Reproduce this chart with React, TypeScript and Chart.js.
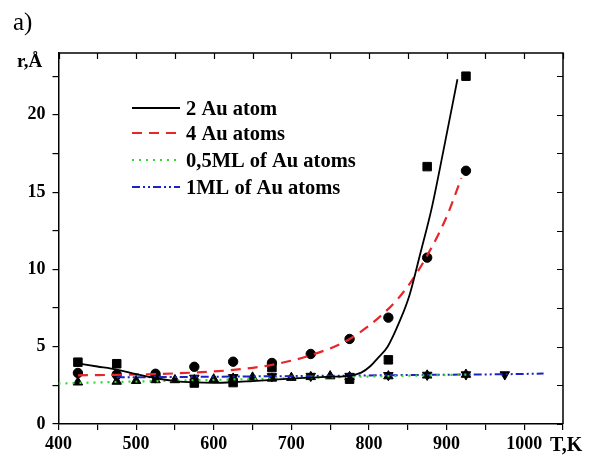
import React, { useEffect, useRef } from "react";
import { Chart, registerables } from "chart.js";

Chart.register(...registerables);

// ---- axis ticks ----
const xTicks = [400, 450, 500, 550, 600, 650, 700, 750, 800, 850, 900, 950, 1000, 1050];
const xLabels = [400, 500, 600, 700, 800, 900, 1000];
const yTicks = [0, 2.5, 5, 7.5, 10, 12.5, 15, 17.5, 20, 22.5];
const yLabels = [0, 5, 10, 15, 20];

// ---- measured points ----
const sq2AuT = [425, 475, 575, 625, 675, 775, 825, 875, 925];
const sq2AuR = [4.0, 3.9, 2.65, 2.68, 3.65, 2.9, 4.15, 16.65, 22.5];

const ci4AuT = [425, 475, 525, 575, 625, 675, 725, 775, 825, 875, 925];
const ci4AuR = [3.3, 3.2, 3.25, 3.7, 4.03, 3.95, 4.53, 5.5, 6.88, 10.76, 16.38];

const tri05T = [425, 475, 500, 525, 550, 575, 600, 625, 650, 675, 700, 725, 750, 775, 825, 875, 925];
const tri05R = [2.7, 2.75, 2.8, 2.85, 2.85, 2.85, 2.9, 2.95, 3.02, 2.95, 3.0, 3.05, 3.1, 3.05, 3.1, 3.15, 3.2];

const tri1T = [475, 525, 575, 625, 675, 725, 775, 825, 875, 925, 975];
const tri1R = [3.0, 3.0, 2.98, 3.02, 3.08, 3.1, 3.1, 3.15, 3.17, 3.2, 3.2];

// ---- fitted curves ----
const line2AuT = [427, 450, 475, 500, 525, 550, 575, 600, 625, 650, 675, 700, 725, 750, 775, 790, 802, 812, 824, 840, 852, 866, 881, 896, 914];
const line2AuR = [3.9, 3.72, 3.52, 3.22, 2.96, 2.78, 2.69, 2.66, 2.7, 2.78, 2.86, 2.94, 3.0, 3.06, 3.12, 3.32, 3.75, 4.3, 5.0, 6.7, 8.3, 11.0, 14.0, 17.7, 22.3];

const line4AuT = [425, 475, 525, 575, 625, 675, 725, 775, 825, 850, 875, 900, 919];
const line4AuR = [3.15, 3.18, 3.23, 3.33, 3.5, 3.83, 4.45, 5.5, 7.45, 8.9, 10.9, 13.4, 15.9];

const line05T = [400, 475, 550, 625, 700, 775, 850, 930];
const line05R = [2.62, 2.72, 2.8, 2.88, 2.97, 3.05, 3.12, 3.2];

const line1T = [475, 575, 675, 775, 875, 975, 1025];
const line1R = [3.02, 3.05, 3.09, 3.13, 3.18, 3.22, 3.26];

const legendLabels = ["2 Au atom", "4 Au atoms", "0,5ML of Au atoms", "1ML of Au atoms"];
const legendColors = ["#000000", "#e8262a", "#33d62f", "#1c22c4"];
const legendDashes = [[], [10, 7], [2, 5], [8, 3, 2, 3, 2, 3]];

const pts = (t: number[], r: number[]) => t.map((v, i) => ({ x: v, y: r[i] }));

const SERIF = '"Liberation Serif", "Times New Roman", serif';

const framePlugin = {
  id: "frame",
  afterDraw(chart: any) {
    const { ctx, chartArea: a, scales } = chart;
    const xs = scales.x;
    const ys = scales.y;
    ctx.save();
    ctx.strokeStyle = "#000";
    ctx.lineWidth = 1.5;
    ctx.setLineDash([]);
    ctx.beginPath();
    ctx.moveTo(a.left, a.top);
    ctx.lineTo(a.right, a.top);
    ctx.lineTo(a.right, a.bottom);
    ctx.stroke();
    ctx.lineWidth = 1.2;
    ctx.beginPath();
    for (const v of xTicks) {
      const px = Math.round(xs.getPixelForValue(v)) + 0.5;
      ctx.moveTo(px, a.top);
      ctx.lineTo(px, a.top + 6);
    }
    for (const v of yTicks) {
      const py = Math.round(ys.getPixelForValue(v)) + 0.5;
      ctx.moveTo(a.right, py);
      ctx.lineTo(a.right - 6, py);
    }
    ctx.stroke();

    ctx.fillStyle = "#000";
    ctx.textBaseline = "alphabetic";
    ctx.textAlign = "left";
    ctx.font = `25px ${SERIF}`;
    ctx.fillText("a)", 13, 30);
    ctx.font = `bold 19px ${SERIF}`;
    ctx.fillText("r,Å", 17, 67);
    ctx.font = `bold 20px ${SERIF}`;
    ctx.fillText("T,K", 550, 451);

    // legend
    const rows = [108, 133, 160, 187];
    legendLabels.forEach((lab, i) => {
      const y = rows[i];
      ctx.strokeStyle = legendColors[i];
      ctx.lineWidth = i === 0 ? 1.8 : 2;
      ctx.setLineDash(legendDashes[i]);
      ctx.beginPath();
      ctx.moveTo(132, y);
      ctx.lineTo(180, y);
      ctx.stroke();
      ctx.setLineDash([]);
      ctx.fillStyle = "#000";
      ctx.font = `bold 20.5px ${SERIF}`;
      ctx.fillText(lab, 186, y + 7);
    });
    ctx.restore();
  },
};

export default function App() {
  const ref = useRef<HTMLCanvasElement | null>(null);
  useEffect(() => {
    if (!ref.current) return;
    Chart.defaults.font.family = SERIF;
    const lineDs = (label: string, t: number[], r: number[], color: string, dash: number[], w: number) => ({
      label,
      data: pts(t, r),
      showLine: true,
      borderColor: color,
      backgroundColor: color,
      borderWidth: w,
      borderDash: dash,
      pointRadius: 0,
      cubicInterpolationMode: "monotone",
      tension: 0.4,
      order: 0,
    });
    const markDs = (label: string, t: number[], r: number[], style: string, radius: number, rot = 0) => ({
      label,
      data: pts(t, r),
      showLine: false,
      pointStyle: style,
      pointRadius: radius,
      pointRotation: rot,
      pointBackgroundColor: "#000",
      pointBorderColor: "#000",
      pointBorderWidth: 1,
      order: 1,
    });
    const chart = new Chart(ref.current, {
      type: "scatter",
      data: {
        datasets: [
          lineDs(legendLabels[0], line2AuT, line2AuR, legendColors[0], legendDashes[0], 1.8),
          lineDs(legendLabels[1], line4AuT, line4AuR, legendColors[1], legendDashes[1], 2.2),
          lineDs(legendLabels[2], line05T, line05R, legendColors[2], legendDashes[2], 2.2),
          lineDs(legendLabels[3], line1T, line1R, legendColors[3], legendDashes[3], 2),
          markDs("2 Au pts", sq2AuT, sq2AuR, "rect", 6),
          markDs("4 Au pts", ci4AuT, ci4AuR, "circle", 4.7),
          markDs("0.5ML pts", tri05T, tri05R, "triangle", 5.5),
          markDs("1ML pts", tri1T, tri1R, "triangle", 5.5, 180),
        ] as any,
      },
      options: {
        animation: false,
        responsive: false,
        devicePixelRatio: 1,
        layout: { padding: { left: 0, right: 35, top: 53, bottom: 0 } },
        plugins: { legend: { display: false }, tooltip: { enabled: false } },
        scales: {
          x: {
            type: "linear",
            min: 400,
            max: 1050,
            afterBuildTicks: (ax: any) => {
              ax.ticks = xTicks.map((v) => ({ value: v }));
            },
            afterFit: (s: any) => {
              s.height = 31;
            },
            ticks: {
              autoSkip: false,
              maxRotation: 0,
              color: "#000",
              padding: 4,
              font: { size: 18, weight: "bold", family: SERIF },
              callback: (v: any) => (xLabels.includes(Number(v)) ? String(v) : ""),
            },
            grid: { drawOnChartArea: false, drawTicks: true, tickLength: 6, color: "#000", lineWidth: 1.2 },
            border: { display: true, color: "#000", width: 1.5 },
          },
          y: {
            type: "linear",
            min: 0,
            max: 24,
            afterBuildTicks: (ax: any) => {
              ax.ticks = yTicks.map((v) => ({ value: v }));
            },
            afterFit: (s: any) => {
              s.width = 58.5;
            },
            ticks: {
              autoSkip: false,
              color: "#000",
              padding: 7,
              font: { size: 18, weight: "bold", family: SERIF },
              callback: (v: any) => (yLabels.includes(Number(v)) ? String(v) : ""),
            },
            grid: { drawOnChartArea: false, drawTicks: true, tickLength: 6, color: "#000", lineWidth: 1.2 },
            border: { display: true, color: "#000", width: 1.5 },
          },
        },
      },
      plugins: [framePlugin],
    });
    return () => chart.destroy();
  }, []);
  return (
    <div style={{ position: "absolute", left: 0, top: 0, width: 598, height: 455, background: "#fff" }}>
      <canvas ref={ref} width={598} height={455} style={{ display: "block" }} />
    </div>
  );
}
